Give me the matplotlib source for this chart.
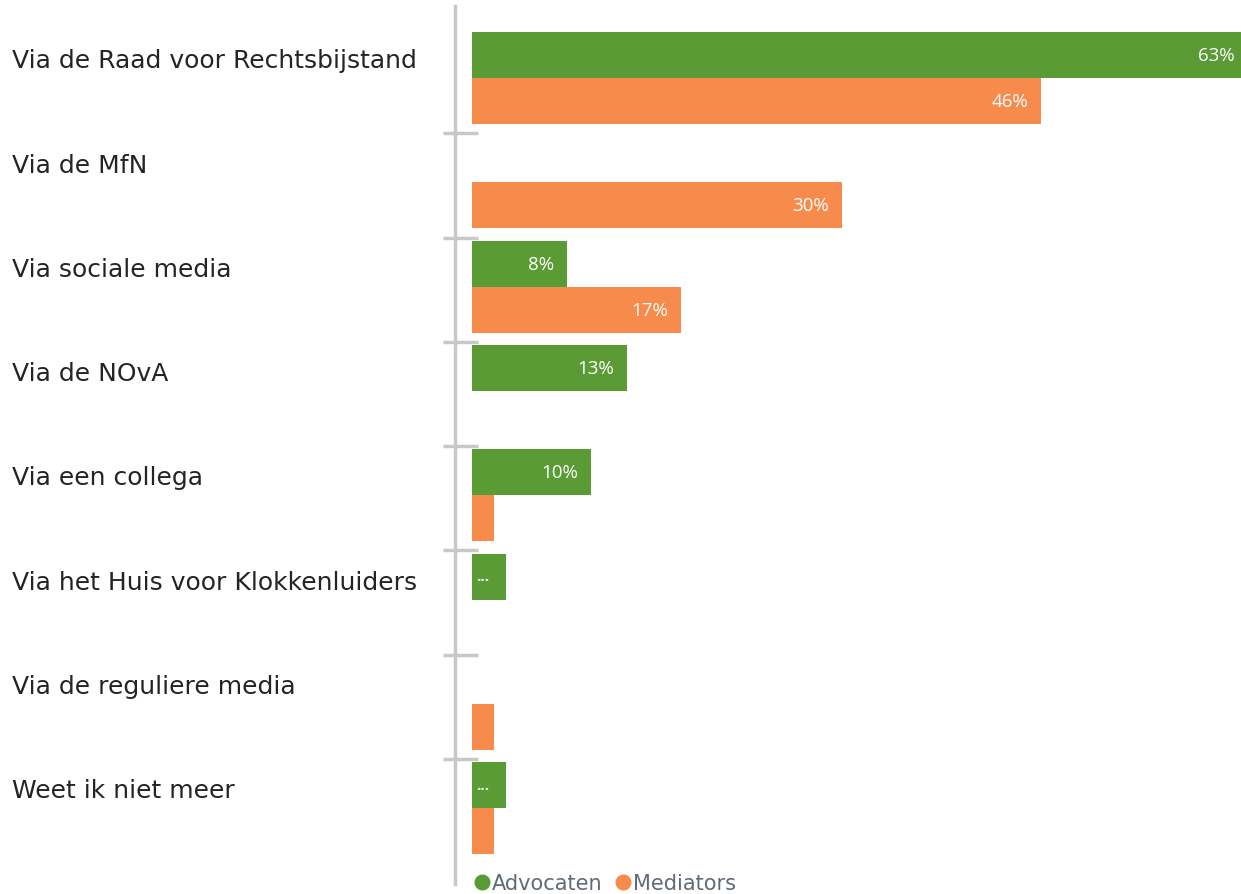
import matplotlib.pyplot as plt
import matplotlib.transforms as mtransforms
from matplotlib.lines import Line2D

plt.rcParams['font.family'] = ['Open Sans', 'DejaVu Sans']

categories = [
    'Via de Raad voor Rechtsbijstand',
    'Via de MfN',
    'Via sociale media',
    'Via de NOvA',
    'Via een collega',
    'Via het Huis voor Klokkenluiders',
    'Via de reguliere media',
    'Weet ik niet meer',
]
advocaten = [63.0, 0.0, 7.7, 12.6, 9.7, 2.8, 0.0, 2.8]
mediators = [46.3, 30.1, 17.0, 0.0, 1.8, 0.0, 1.8, 1.8]
series_names = ['Advocaten', 'Mediators']

green = '#5A9B36'
orange = '#F68B4B'
grid_grey = '#C8C8C8'

W, H = 1241, 895
fig = plt.figure(figsize=(W / 100, H / 100), dpi=100)

# axes: spine at x=455px, zero at 472px
px_per_pct = 12.3
ax_left, ax_top, ax_bottom = 455, 7, 885
ax = fig.add_axes([ax_left / W, 1 - ax_bottom / H, (W - ax_left) / W, (ax_bottom - ax_top) / H])
x0 = -(472 - ax_left) / px_per_pct
ax.set_xlim(x0, x0 + (W - ax_left) / px_per_pct)

row_px = 104.3
center0 = 79
ax.set_ylim((ax_bottom - center0) / row_px, (ax_top - center0) / row_px)

bar_h = 46 / row_px
ys = list(range(len(categories)))
ax.barh([y - bar_h / 2 for y in ys], advocaten, height=bar_h, color=green)
ax.barh([y + bar_h / 2 for y in ys], mediators, height=bar_h, color=orange)


def label_for(v):
    if v >= 5:
        return '%.0f%%' % v
    if v >= 2.5:
        return '...'
    return ''


pad = 13 / px_per_pct
x_visible = (W - 472) / px_per_pct
for offset, values in [(-bar_h / 2, advocaten), (bar_h / 2, mediators)]:
    for y, v in zip(ys, values):
        t = label_for(v)
        if t == '...':
            ax.text(0.3, y + offset, t, color='white', fontsize=11, ha='left', va='center',
                    fontweight='bold')
        elif t:
            ax.text(min(v, x_visible) - pad + (0.5 if v > x_visible else 0), y + offset, t,
                    color='white', fontsize=13.5, ha='right', va='center')

# axis styling
for s in ['top', 'right', 'bottom']:
    ax.spines[s].set_visible(False)
ax.spines['left'].set_color(grid_grey)
ax.spines['left'].set_linewidth(2.5)
ax.set_xticks([])
ax.set_yticks([])
tick_x0 = x0 - 12 / px_per_pct
tick_x1 = x0 + 23 / px_per_pct
ax.hlines([y + 0.53 for y in ys[:-1]], tick_x0, tick_x1, color=grid_grey, linewidth=2.5,
          clip_on=False)

# category labels
trans = mtransforms.blended_transform_factory(fig.transFigure, ax.transData)
for y, c in zip(ys, categories):
    ax.text(12 / W, y - 0.17, c, transform=trans, fontsize=18, color='#252423',
            ha='left', va='center', family='DejaVu Sans')

handles = [Line2D([], [], marker='o', linestyle='', markersize=10.5, color=green),
           Line2D([], [], marker='o', linestyle='', markersize=10.5, color=orange)]
leg = fig.legend(handles, series_names, loc='center left', bbox_to_anchor=(461 / W, 1 - 884 / H),
                 ncol=2, frameon=False, handletextpad=0.0, columnspacing=0.45,
                 borderpad=0, handlelength=1.0, prop={'family': 'DejaVu Sans', 'size': 15})
for t in leg.get_texts():
    t.set_color('#5F6B7A')

fig.savefig('out.png', dpi=100)
